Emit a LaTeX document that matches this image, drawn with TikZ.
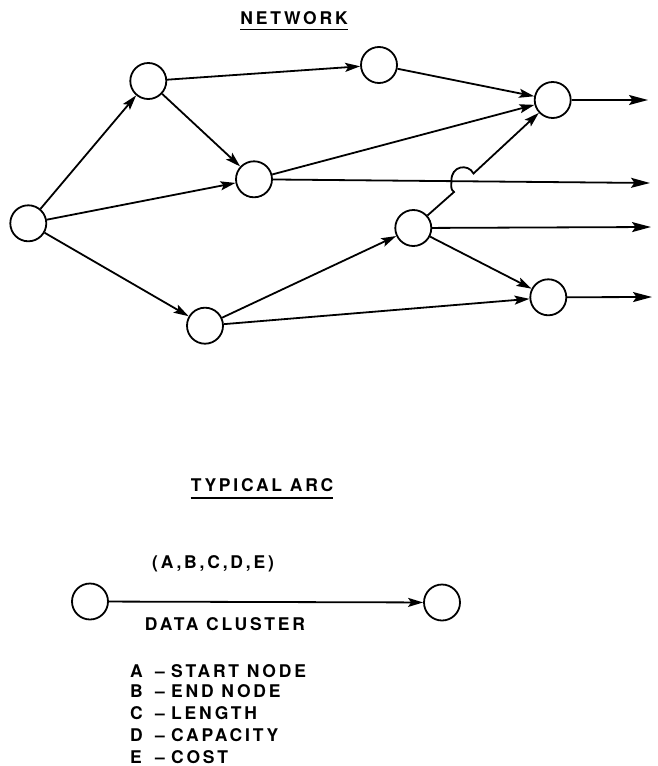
\documentclass[tikz,border=0pt]{standalone}
\usepackage{fontspec}
\newfontfamily\lett[LetterSpace=16]{TeX Gyre Heros}
\usetikzlibrary{arrows.meta}
\begin{document}
\begin{tikzpicture}[x=1pt,y=-1pt,
  vtx/.style={circle,draw,line width=1.8pt,minimum size=36pt,inner sep=0pt},
  arc/.style={line width=1.8pt,-{Stealth[length=15pt,width=9pt,inset=3pt]}},
  outarc/.style={line width=1.8pt,-{Stealth[length=19pt,width=10pt,inset=3.5pt]}},
  lbl/.style={font=\lett\bfseries\fontsize{17.5}{20}\selectfont,inner sep=0pt,anchor=base},
  lblw/.style={lbl,anchor=base west},
  uline/.style={line width=1.8pt}]
\useasboundingbox (0,0) rectangle (657,766);

% network nodes
\node[vtx] (n0) at (28.3,223.3) {};
\node[vtx] (n1) at (148.3,81) {};
\node[vtx] (n2) at (254,179.3) {};
\node[vtx] (n3) at (205,325.7) {};
\node[vtx] (n4) at (379,65) {};
\node[vtx] (n5) at (552.7,100) {};
\node[vtx] (n6) at (413.3,228) {};
\node[vtx] (n7) at (548.3,297.3) {};

% free ends of outgoing arcs
\coordinate (o5) at (648,100);
\coordinate (o2) at (650,183);
\coordinate (o6) at (651,227);
\coordinate (o7) at (652,297);

% hop coordinates
\coordinate (h1) at (454,192);
\coordinate (h2) at (451.5,180.5);
\coordinate (h3) at (473.5,173.5);

\draw[arc] (n0) -- (n1);
\draw[arc] (n0) -- (n2);
\draw[arc] (n0) -- (n3);
\draw[arc] (n1) -- (n4);
\draw[arc] (n1) -- (n2);
\draw[arc] (n4) -- (n5);
\draw[arc] (n2) -- (n5);
\draw[outarc] (n2) -- (o2);
\draw[arc] (n3) -- (n6);
\draw[arc] (n3) -- (n7);
\draw[arc] (n6) -- (h1) .. controls (451,189) .. (h2) .. controls (451,166) and (468,163) .. (h3) -- (n5);
\draw[outarc] (n6) -- (o6);
\draw[arc] (n6) -- (n7);
\draw[outarc] (n5) -- (o5);
\draw[outarc] (n7) -- (o7);

% titles
\node[lbl] (tnet) at (294,24) {NETWORK};
\draw[uline] ([yshift=-5.5pt]tnet.base west) -- ([yshift=-5.5pt]tnet.base east);
\node[lbl] (tarc) at (262,491) {TYPICAL ARC};
\draw[uline] ([yshift=-7pt]tarc.base west) -- ([yshift=-7pt]tarc.base east);

% typical arc
\node[vtx] (m1) at (90,601.5) {};
\node[vtx] (m2) at (442,602.5) {};
\draw[arc] (m1) -- (m2);
\node[lbl] (tup) at (213,568.5) {(A,B,C,D,E)};
\node[lbl] (tdc) at (225,630) {DATA CLUSTER};

% legend
\node[lblw] (la) at (130,677) {A};
\node[lbl] (da) at (160,677) {–};
\node[lblw] (wa) at (171,677) {START NODE};
\node[lblw] (lb) at (130,697) {B};
\node[lbl] (db) at (160,697) {–};
\node[lblw] (wb) at (171,697) {END NODE};
\node[lblw] (lc) at (130,719) {C};
\node[lbl] (dc) at (160,719) {–};
\node[lblw] (wc) at (171,719) {LENGTH};
\node[lblw] (ld) at (130,741) {D};
\node[lbl] (dd) at (160,741) {–};
\node[lblw] (wd) at (171,741) {CAPACITY};
\node[lblw] (le) at (130,763) {E};
\node[lbl] (de) at (160,763) {–};
\node[lblw] (we) at (171,763) {COST};
\end{tikzpicture}
\end{document}
